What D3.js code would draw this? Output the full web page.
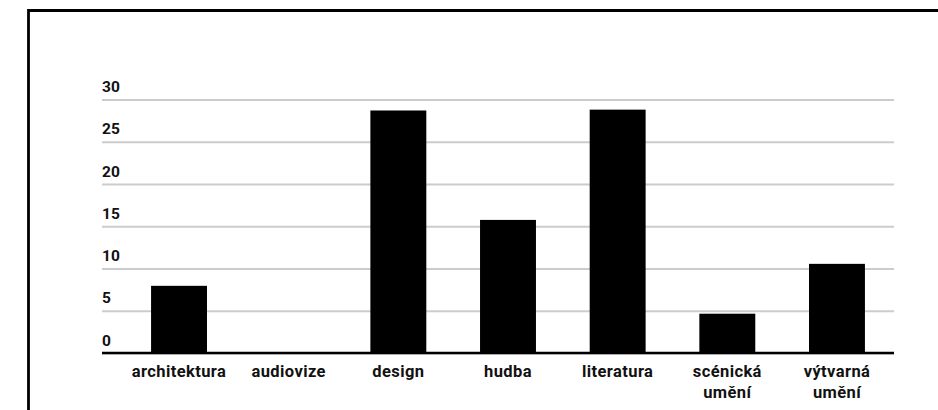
<!DOCTYPE html>
<html>
<head>
<meta charset="utf-8">
<script src="https://cdn.jsdelivr.net/npm/d3@7"></script>
<style>
  html, body { margin: 0; padding: 0; background: #fff; }
  svg { display: block; }
  text { font-family: Roboto, "Noto Sans", sans-serif; font-weight: 700; fill: #111; }
</style>
</head>
<body>
<svg id="chart" width="938" height="410"></svg>
<script>
const categories = ["architektura", "audiovize", "design", "hudba", "literatura", "scénická umění", "výtvarná umění"];
const values = [7.95, 0, 28.7, 15.75, 28.8, 4.65, 10.55];
const yTicks = [0, 5, 10, 15, 20, 25, 30];

const svg = d3.select("#chart");

// frame
svg.append("path")
  .attr("d", "M28.5,410 V10.5 H938")
  .attr("fill", "none")
  .attr("stroke", "#000")
  .attr("stroke-width", 2.8);

const gridLeft = 102, gridRight = 894;
const x = d3.scaleBand().domain(categories).range([124.2, 891.8]).paddingInner(0.49).paddingOuter(0.245);
const y = d3.scaleLinear().domain([0, 30]).range([353, 99.5]);

// y axis with gridlines
const yAxis = svg.append("g")
  .attr("transform", `translate(${gridLeft},0)`)
  .call(d3.axisLeft(y).tickValues(yTicks).tickSize(-(gridRight - gridLeft)).tickFormat(d3.format("d")));
yAxis.select(".domain").remove();
yAxis.selectAll(".tick line").attr("stroke", "#cccccc").attr("stroke-width", 2);
yAxis.selectAll(".tick text")
  .attr("x", 0).attr("dy", null).attr("y", -8)
  .attr("text-anchor", "start")
  .style("font-size", "15.5px")
  .style("font-family", "Roboto, sans-serif")
  .style("font-weight", "700")
  .attr("fill", "#111");

// bars
svg.append("g").selectAll("rect")
  .data(values)
  .join("rect")
  .attr("x", (d, i) => x(categories[i]))
  .attr("width", x.bandwidth())
  .attr("y", d => y(d))
  .attr("height", d => y(0) - y(d))
  .attr("fill", "#000");

// baseline
svg.append("line")
  .attr("x1", gridLeft).attr("x2", gridRight)
  .attr("y1", y(0)).attr("y2", y(0))
  .attr("stroke", "#000").attr("stroke-width", 2.6);

// x axis
const xAxis = svg.append("g")
  .attr("transform", `translate(0,${y(0)})`)
  .call(d3.axisBottom(x).tickSize(0).tickFormat(""));
xAxis.select(".domain").remove();
xAxis.selectAll(".tick").each(function(d) {
  const words = d.split(" ");
  const t = d3.select(this).append("text")
    .attr("text-anchor", "middle")
    .attr("y", 23.5)
    .style("font-size", "16.5px")
    .style("letter-spacing", "0.4px")
    .attr("fill", "#111");
  words.forEach((w, i) => {
    t.append("tspan").attr("x", 0).attr("dy", i === 0 ? 0 : 21).text(w);
  });
});
</script>
</body>
</html>
